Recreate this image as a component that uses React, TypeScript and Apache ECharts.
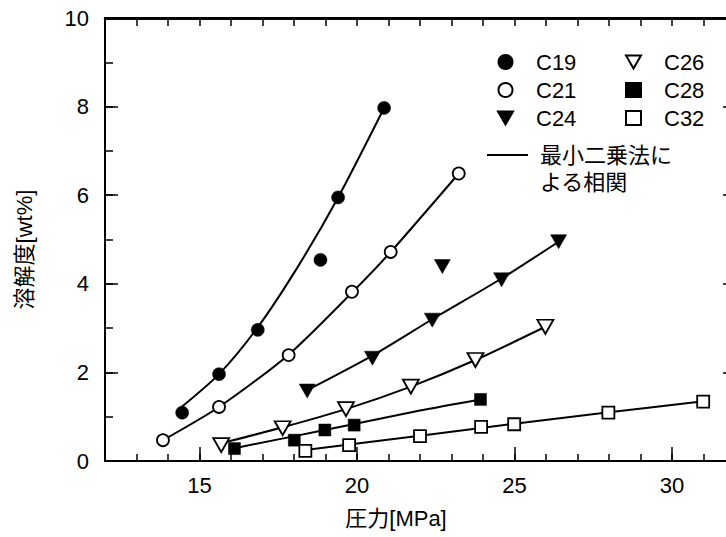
import React, { useEffect, useRef } from "react";
import * as echarts from "echarts";

// Measured points [pressure MPa, solubility wt%]
const c19 = [[14.45, 1.09], [15.62, 1.96], [16.85, 2.96], [18.84, 4.54], [19.4, 5.95], [20.86, 7.97]];
const c21 = [[13.84, 0.47], [15.62, 1.22], [17.83, 2.39], [19.84, 3.82], [21.07, 4.72], [23.23, 6.49]];
const c24 = [[18.42, 1.58], [20.49, 2.32], [22.39, 3.18], [22.71, 4.39], [24.59, 4.09], [26.4, 4.95]];
const c26 = [[15.69, 0.36], [17.64, 0.74], [19.65, 1.17], [21.71, 1.68], [23.76, 2.28], [25.98, 3.03]];
const c28 = [[16.11, 0.28], [18.01, 0.47], [18.98, 0.7], [19.91, 0.81], [23.92, 1.39]];
const c32 = [[18.36, 0.23], [19.75, 0.36], [22.0, 0.56], [23.94, 0.77], [24.99, 0.83], [27.98, 1.09], [30.99, 1.34]];

// Least-squares correlation curves
const fitC19 = [[14.4, 1.2], [15.62, 1.96], [16.85, 3.02], [18.1, 4.36], [19.4, 5.95], [20.86, 7.97]];
const fitC21 = [[13.84, 0.47], [15.62, 1.22], [17.83, 2.4], [19.84, 3.8], [21.07, 4.72], [23.23, 6.49]];
const fitC24 = [[18.42, 1.6], [20.49, 2.38], [22.39, 3.2], [24.59, 4.12], [26.4, 4.95]];
const fitC26 = [[15.8, 0.42], [17.64, 0.76], [19.65, 1.17], [21.71, 1.68], [23.76, 2.28], [25.98, 3.03]];
const fitC28 = [[16.11, 0.29], [18.98, 0.7], [22.0, 1.14], [23.92, 1.39]];
const fitC32 = [[18.36, 0.25], [22.0, 0.57], [25.0, 0.84], [28.0, 1.1], [31.0, 1.35]];

const xMajorTicks = [15, 20, 25, 30];
const yTop = 10;

const FONT = '"Liberation Sans", Arial, "Noto Sans CJK JP", sans-serif';
const TRI = "path://M0,0L16,0L8,14Z";

export default function App() {
  const ref = useRef<HTMLDivElement>(null);
  useEffect(() => {
    const chart = echarts.init(ref.current!, null, { renderer: "svg" });
    const black = "#000";
    const mkLine = () => ({ show: true, onZero: false, lineStyle: { color: black, width: 2 } });
    const tick = (len: number, extra: any = {}) => ({
      show: true,
      inside: true,
      length: len,
      lineStyle: { color: black, width: 1.5 },
      ...extra,
    });
    const noSplit = { show: false };
    const gridRect = { left: 105, top: 18, width: 630, height: 443, outerBoundsMode: "none" };

    const scatter = (name: string, data: number[][], symbol: string, size: any, filled: boolean) => ({
      name,
      type: "scatter",
      data,
      symbol,
      symbolSize: size,
      z: 5,
      itemStyle: filled
        ? { color: black, borderColor: black, borderWidth: 0.5, opacity: 1 }
        : { color: "#fff", borderColor: black, borderWidth: 1.8, opacity: 1 },
    });
    const fit = (data: number[][]) => ({
      type: "line",
      data,
      smooth: 0.25,
      showSymbol: false,
      symbol: "none",
      z: 2,
      lineStyle: { color: black, width: 2 },
      silent: true,
    });

    const legendBase = {
      orient: "vertical",
      top: 50,
      padding: 0,
      itemWidth: 15,
      itemHeight: 14,
      itemGap: 4,
      selectedMode: false,
      textStyle: { fontSize: 22, color: black, fontFamily: FONT, padding: [0, 0, 0, 18], lineHeight: 24 },
    };
    const ghostLabel = { show: true, color: "rgba(0,0,0,0)", fontSize: 1, margin: 0 };

    chart.setOption({
      animation: false,
      grid: [{ ...gridRect }, { ...gridRect }],
      xAxis: [
        {
          type: "value",
          gridIndex: 0,
          position: "bottom",
          min: 12,
          max: 32,
          axisLine: mkLine(),
          axisTick: tick(14, { customValues: xMajorTicks }),
          axisLabel: { customValues: xMajorTicks, fontSize: 22, color: black, margin: 13, fontFamily: FONT },
          splitLine: noSplit,
          name: "圧力[MPa]",
          nameLocation: "middle",
          nameGap: 46,
          nameTextStyle: { fontSize: 22, color: black, fontFamily: FONT, padding: [0, 48, 0, 0] },
        },
        {
          type: "value",
          gridIndex: 0,
          position: "top",
          min: 12,
          max: 32,
          interval: 1,
          axisLine: { show: true, onZero: false, lineStyle: { color: black, width: 2.5 } },
          axisTick: tick(8),
          axisLabel: ghostLabel,
          splitLine: noSplit,
        },
        {
          type: "value",
          gridIndex: 1,
          position: "bottom",
          min: 12,
          max: 32,
          interval: 1,
          axisLine: { show: false, onZero: false },
          axisTick: tick(7),
          axisLabel: ghostLabel,
          splitLine: noSplit,
        },
      ],
      yAxis: [
        {
          type: "value",
          gridIndex: 0,
          position: "left",
          min: 0,
          max: 10,
          interval: 2,
          axisLine: mkLine(),
          axisTick: tick(13),
          axisLabel: { fontSize: 22, color: black, margin: 16, fontFamily: FONT },
          splitLine: noSplit,
          name: "溶解度[wt%]",
          nameLocation: "middle",
          nameGap: 70,
          nameTextStyle: { fontSize: 22, color: black, fontFamily: FONT, padding: [0, 20, 0, 0] },
        },
        {
          type: "value",
          gridIndex: 0,
          position: "right",
          min: 0,
          max: 10,
          interval: 2,
          axisLine: mkLine(),
          axisTick: tick(12),
          axisLabel: { show: false },
          splitLine: noSplit,
        },
        {
          type: "value",
          gridIndex: 1,
          position: "left",
          min: 0,
          max: 10,
          interval: 1,
          axisLine: { show: false, onZero: false },
          axisTick: tick(8),
          axisLabel: ghostLabel,
          splitLine: noSplit,
        },
      ],
      legend: [
        { ...legendBase, left: 497, data: ["C19", "C21", "C24"] },
        { ...legendBase, left: 625, data: ["C26", "C28", "C32"] },
      ],
      graphic: [
        { type: "rect", z: 100, shape: { x: 104, y: 17, width: 622, height: 2.5 }, style: { fill: black } },
        { type: "line", shape: { x1: 487, y1: 155, x2: 528, y2: 155 }, style: { stroke: black, lineWidth: 2 } },
        { type: "text", x: 540, y: 155, style: { text: "最小二乗法に", fontSize: 22, fill: black, fontFamily: FONT, verticalAlign: "middle" } },
        { type: "text", x: 540, y: 182, style: { text: "よる相関", fontSize: 22, fill: black, fontFamily: FONT, verticalAlign: "middle" } },
      ],
      series: [
        { type: "line", data: [], xAxisIndex: 2, yAxisIndex: 2, silent: true, symbol: "none" },
        {
          type: "line",
          data: [],
          xAxisIndex: 1,
          yAxisIndex: 1,
          silent: true,
          symbol: "none",
        },
        {
          type: "line",
          data: [],
          silent: true,
          symbol: "none",
          markLine: {
            silent: true,
            symbol: "none",
            label: { show: false },
            lineStyle: { color: black, width: 2.5, type: "solid" },
            data: [{ yAxis: yTop }],
          },
        },
        fit(fitC19),
        fit(fitC21),
        fit(fitC24),
        fit(fitC26),
        fit(fitC28),
        fit(fitC32),
        scatter("C19", c19, "circle", 13, true),
        scatter("C21", c21, "circle", 12, false),
        scatter("C24", c24, TRI, [16, 14], true),
        scatter("C26", c26, TRI, [16, 14], false),
        scatter("C28", c28, "rect", 12, true),
        scatter("C32", c32, "rect", 12, false),
      ],
    });
    return () => chart.dispose();
  }, []);
  return <div ref={ref} style={{ position: "fixed", left: 0, top: 0, width: 726, height: 537, background: "#fff" }} />;
}
